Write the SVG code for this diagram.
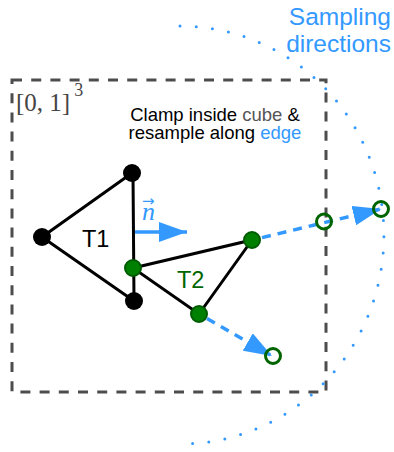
<svg xmlns="http://www.w3.org/2000/svg" width="394" height="452" viewBox="0 0 394 452">
<style>
.edge{stroke:#000;stroke-width:3;fill:none}
.bn{fill:#000}
.gn{fill:#008000;stroke:#005c00;stroke-width:2}
.on{fill:none;stroke:#006400;stroke-width:3}
.bd{stroke:#3399ff;stroke-width:3.5;fill:none;stroke-dasharray:9 7}
.sans{font-family:"Liberation Sans",Arial,sans-serif}
.serif{font-family:"Liberation Serif","DejaVu Serif",serif}
</style>
<defs>
<marker id="ah" viewBox="0 0 28 20" refX="28" refY="10" markerWidth="28" markerHeight="20" markerUnits="userSpaceOnUse" orient="auto">
<path d="M0,0 L28,10 L0,20 Z" fill="#3399ff"/>
</marker>
</defs>
<rect x="12" y="80" width="314" height="312" fill="none" stroke="#4d4d4d" stroke-width="3" stroke-dasharray="10 9.2"/>
<path d="M180,26 A204,209 0 0 1 180,444" fill="none" stroke="#3399ff" stroke-width="3" stroke-linecap="round" stroke-dasharray="0 16.3"/>
<g id="labels">
<text class="sans" x="391" y="25" font-size="24.5" fill="#3399ff" text-anchor="end">Sampling</text>
<text class="sans" x="391" y="52" font-size="24.5" fill="#3399ff" text-anchor="end">directions</text>
<text class="sans" x="215" y="121" font-size="18.5" text-anchor="middle" fill="#000">Clamp inside <tspan fill="#555">cube</tspan> &amp;</text>
<text class="sans" x="215" y="139" font-size="18.5" text-anchor="middle" fill="#000">resample along <tspan fill="#3399ff">edge</tspan></text>
<text class="serif" x="16" y="111" font-size="25" fill="#444">[0, 1]<tspan font-size="18" dy="-15" dx="4">3</tspan></text>
</g>
<g id="connectors">
<path class="edge" d="M42,237 L132,173 M42,237 L134,301 M133,173 L134,301 M133,268 L252,240 L199,314 Z"/>
<path d="M135,232 L187,232" stroke="#3399ff" stroke-width="3.5" marker-end="url(#ah)" fill="none"/>
<path class="bd" d="M262,237.6 L381,209" marker-end="url(#ah)"/>
<path class="bd" d="M207,318.5 L272,356" marker-end="url(#ah)"/>
</g>
<g id="normal-label">
<text class="serif" x="142" y="220" font-size="26" font-style="italic" fill="#3399ff">n</text>
<text x="142" y="206" font-family="DejaVu Sans, sans-serif" font-size="15" fill="#3399ff">→</text>
</g>
<g id="T1">
<circle class="bn" cx="42" cy="237" r="9"/>
<circle class="bn" cx="132" cy="173" r="9"/>
<circle class="bn" cx="134" cy="301" r="9"/>
<text class="sans" x="82" y="247" font-size="23.5" fill="#000">T1</text>
</g>
<g id="T2">
<circle class="gn" cx="133" cy="268" r="8"/>
<circle class="gn" cx="252" cy="240" r="8"/>
<circle class="gn" cx="199" cy="314" r="8"/>
<text class="sans" x="177" y="288" font-size="23.5" fill="#006600">T2</text>
</g>
<g id="samples">
<circle class="on" cx="324" cy="221.5" r="7.5"/>
<circle class="on" cx="381" cy="209" r="7.5"/>
<circle class="on" cx="273" cy="356" r="7.5"/>
</g>
</svg>
